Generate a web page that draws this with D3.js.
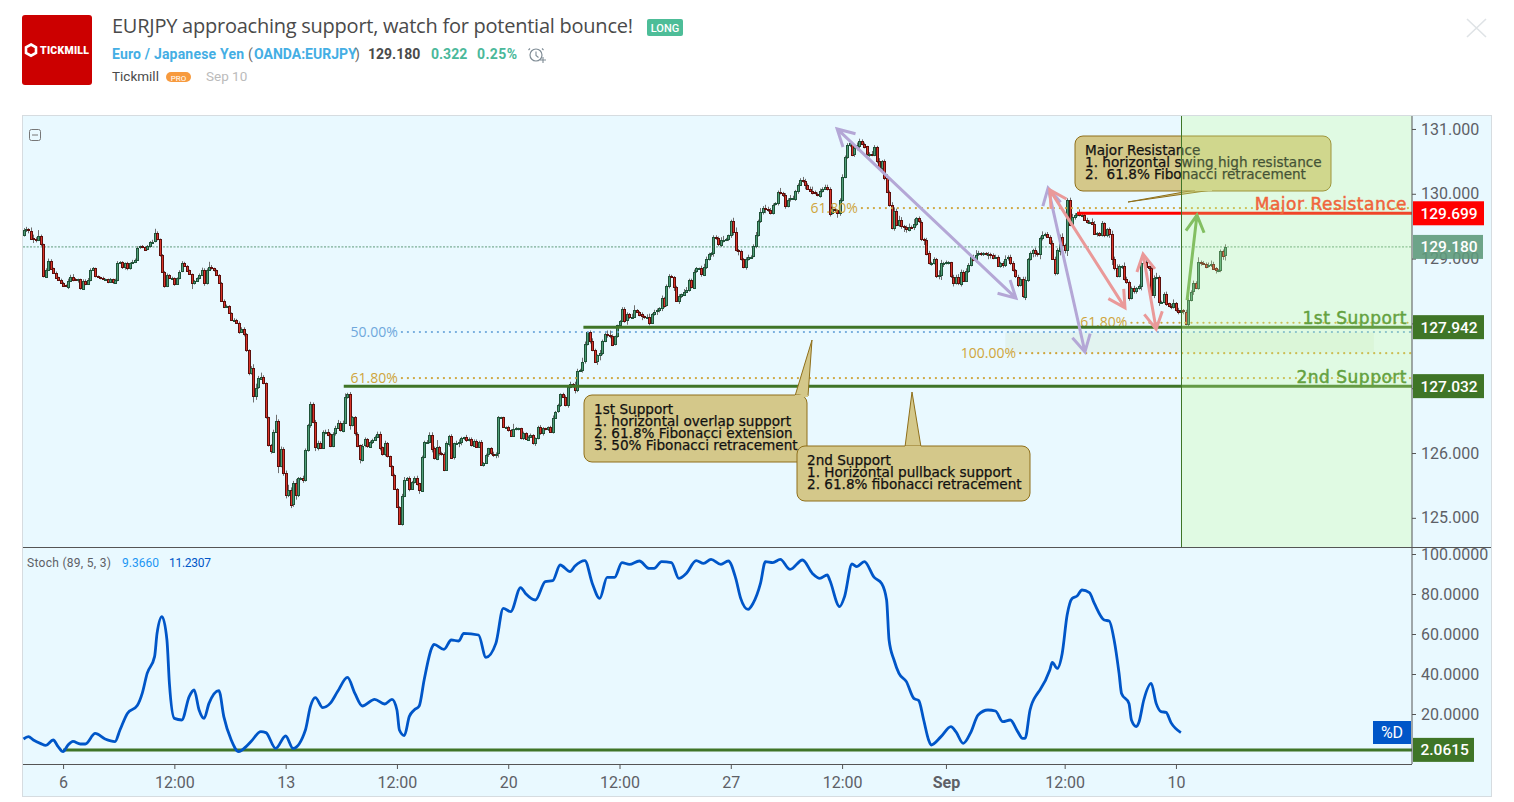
<!DOCTYPE html>
<html>
<head>
<meta charset="utf-8">
<title>EURJPY</title>
<script src="https://cdnjs.cloudflare.com/ajax/libs/d3/7.8.5/d3.min.js"></script>
<style>
html,body{margin:0;padding:0;background:#fff;overflow:hidden}
svg{display:block}
text{font-family:Roboto,sans-serif}
.note{font-family:"DejaVu Sans",sans-serif;font-size:13.6px;fill:#111;stroke:#111;stroke-width:.25}
.big{font-family:"DejaVu Sans",sans-serif;font-size:17px;letter-spacing:.5px;stroke-width:.5}
.axis text{font-size:16px;fill:#5d6066;font-family:Roboto,sans-serif}
.axis path{display:none}
.axis line{stroke:#555}
</style>
</head>
<body>
<svg id="chart" width="1514" height="802"></svg>
<script>
// EURJPY closes, one per bar
var closes = [
129.44,129.45,129.43,129.31,129.30,129.29,129.35,129.22,128.72,128.83,128.97,128.85,128.78,128.71,128.67,128.63,128.59,128.57,128.66,128.72,
128.68,128.67,128.68,128.54,128.66,128.61,128.67,128.82,128.85,128.73,128.71,128.70,128.68,128.68,128.64,128.68,128.63,128.67,128.93,128.94,
128.87,128.93,128.85,128.93,128.95,128.98,129.17,129.19,129.18,129.14,129.19,129.25,129.26,129.39,129.30,129.06,128.80,128.58,128.75,128.70,
128.70,128.61,128.70,128.80,128.93,128.89,128.82,128.76,128.62,128.65,128.70,128.75,128.83,128.63,128.83,128.87,128.85,128.82,128.75,128.63,
128.35,128.26,128.27,128.16,128.05,128.06,128.01,127.87,127.92,127.84,127.59,127.23,127.31,126.88,127.01,127.15,127.18,127.08,126.55,126.12,
126.02,126.33,126.50,125.80,126.06,125.69,125.35,125.43,125.20,125.53,125.34,125.61,125.62,125.59,126.05,126.43,126.76,126.48,126.09,126.16,
126.09,126.33,126.33,126.29,126.11,126.30,126.38,126.46,126.35,126.47,126.87,126.91,126.43,126.55,126.30,126.12,125.90,126.11,126.21,126.10,
126.17,126.20,126.25,126.30,126.09,125.98,126.15,125.95,125.80,125.66,125.45,125.17,124.91,
125.34,125.59,125.62,125.45,125.56,125.62,125.53,125.42,125.94,126.17,126.17,126.28,126.07,125.92,126.10,126.00,125.99,125.74,126.15,126.27,
125.93,126.15,126.16,126.17,126.23,126.24,126.19,126.21,126.12,126.19,126.10,126.17,125.81,125.84,125.97,126.07,125.99,125.97,125.99,126.55,
126.55,126.40,126.40,126.35,126.26,126.37,126.38,126.38,126.23,126.31,126.21,126.25,126.28,126.15,126.23,126.40,126.30,126.38,126.37,126.40,
126.33,126.54,126.64,126.74,126.91,126.87,126.74,127.02,127.06,127.05,126.97,127.27,127.28,127.41,127.68,127.87,127.73,127.59,127.41,127.51,
127.54,127.73,127.84,127.82,127.81,127.67,127.80,127.97,128.03,128.22,128.04,128.14,128.10,128.10,128.21,128.18,128.14,128.11,128.10,128.10,
128.01,128.15,128.18,128.20,128.23,128.39,128.27,128.57,128.73,128.72,128.56,128.35,128.42,128.45,128.49,128.52,128.67,128.56,128.80,128.85,
128.85,128.75,128.87,129.00,129.07,129.09,129.33,129.31,129.21,129.28,129.29,129.30,129.36,129.58,129.41,129.13,129.12,129.00,128.87,128.99,
129.02,129.03,129.19,129.36,129.58,129.72,129.78,129.76,129.75,129.70,129.83,129.85,130.02,130.01,129.98,129.81,129.91,129.93,129.93,130.05,
130.14,130.22,
130.20,130.14,130.08,130.05,130.02,130.00,129.98,130.05,130.08,130.11,130.08,129.70,129.76,129.75,129.70,129.90,130.26,130.57,130.75,130.78,
130.60,130.70,130.75,130.82,130.77,130.73,130.61,130.62,130.60,130.72,130.50,130.39,130.50,130.24,130.03,129.83,129.47,129.74,129.52,129.60,
129.50,129.48,129.45,129.49,129.48,129.53,129.62,129.57,129.30,129.29,129.08,128.93,128.93,128.99,128.73,128.75,128.93,128.93,128.94,128.94,
128.72,128.62,128.72,128.62,128.80,128.66,128.81,128.90,129.03,128.98,129.06,129.08,129.07,129.08,129.07,129.07,129.06,129.02,129.03,128.89,
128.93,128.90,129.00,129.02,128.93,128.82,128.72,128.59,128.68,128.41,128.67,128.99,129.08,129.13,129.08,129.06,129.31,129.36,129.38,129.34,
129.24,129.00,128.78,129.13,129.34,129.21,129.13,129.90,129.52,129.64,129.67,129.70,129.67,129.67,129.60,129.57,129.57,129.54,129.39,129.39,
129.36,129.55,129.36,129.45,129.38,128.99,128.85,128.73,128.88,128.88,128.68,128.64,128.39,128.54,128.49,128.54,128.57,128.93,128.95,128.88,
128.85,128.44,128.70,128.71,128.33,128.33,128.46,128.31,128.27,128.25,128.31,128.20,128.17,128.20,128.18,127.99,
128.36,128.49,128.62,128.55,128.95,128.93,128.92,128.88,128.90,128.92,128.85,128.82,128.83,129.12,129.05,129.18
];
// wick lengths above and below the body, in hundredths of a yen
var upperWicks = [
3,4,2,5,6,3,9,2,1,2,3,2,1,2,1,2,1,1,3,3,4,2,1,1,2,2,3,3,2,1,1,1,2,1,1,2,1,2,3,2,2,1,2,1,3,2,2,1,2,1,
2,2,3,7,3,1,1,1,2,1,2,1,1,2,3,2,1,1,1,2,1,2,3,2,2,8,3,1,1,1,1,2,2,1,1,2,1,2,2,2,1,1,3,6,6,4,6,2,1,1,
2,3,9,2,4,3,4,8,4,4,7,2,1,3,2,2,3,2,3,3,2,2,3,4,2,2,4,5,3,3,5,2,3,2,2,2,1,3,3,2,2,2,2,3,3,1,4,2,1,1,
2,1,1,3,4,1,2,1,2,3,1,2,2,3,4,4,3,10,1,2,2,3,1,2,1,3,4,2,1,4,3,3,2,2,2,3,2,2,1,2,3,2,2,1,1,1,2,2,8,2,
1,1,2,1,2,2,1,1,2,3,2,1,1,2,4,1,2,1,2,2,3,4,2,5,3,2,6,4,1,2,4,2,1,5,2,2,5,7,2,1,1,2,3,3,3,2,5,7,1,1,
3,1,4,5,1,3,3,2,4,2,3,3,2,1,2,3,1,4,4,2,2,3,2,1,4,5,3,2,1,3,3,3,5,6,2,1,2,5,7,2,2,1,3,4,2,3,5,2,6,3,
5,4,3,2,2,3,7,2,3,2,5,4,1,2,2,4,3,2,3,6,3,2,3,2,3,3,2,6,2,1,3,4,2,3,3,2,5,4,3,2,2,1,2,4,3,2,5,2,3,6,
2,4,5,3,6,4,2,3,5,2,8,2,3,2,2,3,4,2,3,2,7,5,2,3,2,1,3,3,4,3,2,4,3,2,3,7,4,2,2,2,3,2,2,3,2,2,3,5,3,4,
3,2,3,3,4,5,2,3,2,4,3,3,6,2,3,2,4,3,3,3,5,2,3,4,5,3,2,6,3,3,3,2,5,4,2,2,3,1,2,3,5,4,6,3,2,6,4,2,3,4,
2,3,6,8,3,1,3,4,7,3,2,2,3,1,3,6,2,4,2,2,3,3,2,4,3,7,2,3,2,4,5,3,2,1,2,2,4,2,1,4,6,2,3,4,7,3,2,5,6
];
var lowerWicks = [
2,3,4,2,6,4,2,3,1,2,2,1,1,2,1,2,2,1,4,2,3,1,4,2,1,2,1,2,1,2,1,2,1,2,2,1,2,1,2,1,3,4,3,2,1,2,1,2,2,1,
1,2,1,1,2,3,2,3,2,1,2,3,1,2,1,2,2,1,9,2,1,2,2,5,3,1,2,2,2,2,2,1,2,1,1,2,1,3,1,4,3,3,2,10,6,2,1,2,2,2,
3,2,1,11,2,4,5,3,5,3,6,2,3,5,3,3,4,2,6,5,2,1,4,3,2,2,3,1,2,3,2,3,7,2,3,3,6,3,2,2,2,3,1,2,5,2,3,2,2,2,
2,2,1,3,2,1,4,2,3,3,5,2,2,3,2,6,2,3,4,3,2,1,5,2,3,2,7,5,3,2,1,2,2,2,2,1,2,1,3,2,3,5,6,2,1,2,2,1,1,2,
3,2,3,1,2,1,2,4,2,2,3,2,3,2,3,1,2,3,2,2,4,2,4,5,3,2,4,3,2,4,2,2,5,8,3,2,4,4,2,1,2,4,1,3,6,3,2,1,2,3,
6,3,2,4,2,3,5,3,4,3,1,3,2,6,2,5,3,1,2,3,2,3,2,1,3,2,3,3,4,6,2,2,3,3,2,3,4,5,2,7,3,2,4,2,2,1,3,2,3,4,
6,3,2,2,1,3,2,3,4,2,3,2,4,5,2,3,7,2,2,3,1,2,4,3,2,3,5,2,3,7,4,2,2,3,3,2,3,3,7,2,3,3,4,2,2,3,1,4,3,2,
3,2,4,2,3,4,7,5,3,2,4,3,2,3,8,3,2,4,2,3,5,8,6,2,3,2,5,2,3,5,2,2,3,2,2,4,2,3,3,2,8,6,3,2,2,3,4,3,3,3,
2,2,3,2,2,5,3,2,6,5,3,7,3,2,2,3,2,4,3,8,3,5,9,2,3,4,2,2,3,2,3,3,2,2,5,2,2,3,3,6,9,3,2,2,4,2,3,4,2,3,
3,2,6,3,2,4,3,5,2,6,3,2,4,2,3,2,2,3,6,4,2,3,2,5,2,3,4,2,3,2,3,2,5,3,4,7,8,2,3,2,4,3,2,3,3
];

// stochastic %D line
var stochBars = [0,2,4,7,9,12,14,16,18,20,23,25,29,33,37,39,42,46,48,50,53,54,56,58,59,61,64,67,69,71,73,75,79,81,84,87,90,92,96,98,102,106,109,114,116,118,121,124,127,131,134,137,142,146,149,151,152,154,156,158,160,162,165,166,170,173,176,178,184,187,191,194,197,201,203,207,211,214,217,221,223,227,230,233,236,239,242,245,249,253,255,258,262,265,268,272,275,278,282,285,288,290,293,295,298,300,303,306,310,315,319,322,325,326,330,332,335,337,340,344,347,349,350,352,354,357,360,362,364,366,367,371,375,377,380,383,386,390,393,396,399,402,404,405,407,410,411,415,416,418,420,422,424,426,428,431,433,437,439,441,443,444,447,448,450,451,453,456,458,460,462,464,468];
var stochValues = [7.5,8.7,7,5.2,4.3,7,3.7,1.2,4.5,6.3,5,5,10.3,7.5,6.2,12,20.3,24.2,30.3,40.3,48.7,60.3,68.7,57,35.3,17.8,17,28.7,32,22,17.8,25.3,31.7,18.7,7,1.2,3.7,6.2,11.2,10.7,2.8,9,2.8,12,23.7,28.2,23.2,25.3,31.2,38.3,30.3,24,27.3,25,27.3,22,12,9.2,18.7,22,24,37,52.8,54.8,52.3,57,56.5,60.3,59.5,48.3,55.3,72.8,71.2,83.2,80.3,77,86.2,86.7,94.5,91.2,94,96.7,85.3,77.8,88.3,88.3,95.7,94.8,96.5,92.8,92.8,96.2,95.7,87.8,90.3,96.7,95.3,97.3,94.8,96.5,87.8,77.8,72.3,75.3,85.3,96.2,95.7,97.3,92.3,97,90.3,87.8,89.5,87,73.7,78.7,95,93.7,96.2,88.3,85.3,77,57,47,40.3,36.2,27.8,26.7,17,7,4.5,8.7,13.7,11.2,5.3,10.7,19.5,22,21.5,16.2,17,11.2,7.8,7.8,22,30.3,32,42,45.8,42.8,50.3,69.5,77.8,79,82,80.7,75.3,67,66.5,57,40.3,30.3,25.3,17,13.7,15.7,27,35.3,25.3,21.2,20.8,15.7,10.7];

var priceTicks = [131,130,129,128,127,126,125];
var stochTicks = [100,80,60,40,20];
var timeBars = [16,61,106,151,196,241,286,331,373,421,466];
var timeLabels = ['6','12:00','13','12:00','20','12:00','27','12:00','Sep','12:00','10'];

var lastPrice = 129.180, resistance = 129.699, support1 = 127.942, support2 = 127.032, stochLevel = 2.0615;

// fib levels: price, first bar, label, colour
var fibLevels = [
  {price:127.867, bar:153, label:'50.00%', color:'#6fa8dc'},
  {price:127.157, bar:153, label:'61.80%', color:'#cfa53c'},
  {price:129.780, bar:339, label:'61.80%', color:'#cfa53c'},
  {price:128.010, bar:448, label:'61.80%', color:'#cfa53c'},
  {price:127.540, bar:403, label:'100.00%', color:'#cfa53c'}
];
// arrows: from bar, from price, to bar, to price, colour, double headed
var arrows = [
  [329,131.00,401.3,128.39,'#b4a7d6',true],
  [414.3,130.09,429.2,127.56,'#b4a7d6',true],
  [415,130.06,445.4,128.24,'#ea9999',true],
  [452.7,129.07,458,127.91,'#ea9999',true],
  [470.5,128.36,474.5,129.67,'#6aa84f',false]
];

var svg = d3.select('#chart');
var left = 23, axisX = 1412, cardR = 1491, top_ = 116, sep = 547, bottom = 764, cardB = 796;

var x = d3.scaleLinear().domain([0,561.45]).range([23.5,1412]);
var y = d3.scaleLinear().domain([131.2,124.55]).range([top_,sep]);
var yS = d3.scaleLinear().domain([103.5,-5]).range([sep,bottom]);

// header
var head = svg.append('g');
head.append('rect').attr('x',22).attr('y',15).attr('width',70).attr('height',70).attr('rx',3).attr('fill','#cc0000');
head.append('path').attr('d','M31 44.5l5 2.8v5.6l-5 2.8-5-2.8v-5.6z').attr('fill','none').attr('stroke','#fff').attr('stroke-width',2.6);
head.append('text').attr('x',40).attr('y',53.5).attr('font-size',10.5).attr('font-weight',900).attr('fill','#fff').attr('textLength',49).text('TICKMILL');
head.append('text').attr('x',112).attr('y',33).attr('font-size',20).attr('fill','#4a4a4a').attr('textLength',521).style('font-family','"Open Sans"').text('EURJPY approaching support, watch for potential bounce!');
head.append('rect').attr('x',647).attr('y',19).attr('width',36).attr('height',17).attr('rx',2).attr('fill','#4dbd98');
head.append('text').attr('x',665).attr('y',31.5).attr('text-anchor','middle').attr('font-size',11).attr('font-weight',500).attr('fill','#fff').text('LONG');

var line2 = [
  [112,'Euro / Japanese Yen','#44aee4',700,132],
  [248,'(','#6b6b6b',400,0],
  [254,'OANDA:EURJPY','#44aee4',700,0],
  [355,')','#6b6b6b',400,0],
  [368,'129.180','#4a4a4a',700,0],
  [431,'0.322','#4ab89a',700,0],
  [477,'0.25%','#4ab89a',700,40]
];
head.selectAll('.l2').data(line2).enter().append('text').attr('class','l2')
  .attr('x',function(d){return d[0];}).attr('y',59).attr('font-size',14)
  .attr('fill',function(d){return d[2];}).attr('font-weight',function(d){return d[3];})
  .attr('textLength',function(d){return d[4]||null;})
  .text(function(d){return d[1];});
head.append('circle').attr('cx',536).attr('cy',55).attr('r',6).attr('fill','none').attr('stroke','#7f8c95').attr('stroke-width',1.2);
head.append('path').attr('d','M536 51.5v4l2.5 2M530 48.5l-1.5 1.5M542 48.5l1.5 1.5M540 60h6M543 57v6').attr('fill','none').attr('stroke','#7f8c95').attr('stroke-width',1.1);
head.append('text').attr('x',112).attr('y',81).attr('font-size',13.5).attr('fill','#4a4a4a').text('Tickmill');
head.append('rect').attr('x',166).attr('y',72).attr('width',25).attr('height',10).attr('rx',5).attr('fill','#f79a3e');
head.append('text').attr('x',178.5).attr('y',80.5).attr('text-anchor','middle').attr('font-size',8).attr('fill','#fff').text('PRO');
head.append('text').attr('x',206).attr('y',81).attr('font-size',13.5).attr('fill','#bbbbbb').text('Sep 10');
head.append('path').attr('d','M1467 19l19 18M1486 19l-19 18').attr('stroke','#dfe3e6').attr('stroke-width',1.6);

// card background
svg.append('rect').attr('x',left-.5).attr('y',top_-.5).attr('width',cardR-left+1).attr('height',cardB-top_+1)
  .attr('fill','#e9f9ff').attr('stroke','#d6dce0');

svg.append('defs').append('clipPath').attr('id','paneClip').append('rect')
  .attr('x',left).attr('y',top_).attr('width',axisX-left).attr('height',sep-top_);
var pane = svg.append('g').attr('clip-path','url(#paneClip)');

// last price line
pane.append('line').attr('x1',left).attr('x2',axisX).attr('y1',y(lastPrice)).attr('y2',y(lastPrice))
  .attr('stroke','#5f9a7c').attr('stroke-dasharray','2 1.5');

// candles
var opens = [129.36].concat(closes.slice(0,-1));
var bars = closes.map(function(c,i){
  var o = opens[i];
  return {i:i,o:o,c:c,h:Math.max(o,c)+(upperWicks[i]||0)/100,l:Math.min(o,c)-(lowerWicks[i]||0)/100};
});
var cx = function(d){return Math.round(x(d.i));};
pane.selectAll('.wick').data(bars).enter().append('line').attr('class','wick')
  .attr('x1',function(d){return cx(d)+.5;}).attr('x2',function(d){return cx(d)+.5;})
  .attr('y1',function(d){return y(d.h);}).attr('y2',function(d){return y(d.l);})
  .attr('stroke','#6f6f6f').attr('stroke-width',1);
pane.selectAll('.body').data(bars).enter().append('rect').attr('class','body')
  .attr('x',function(d){return cx(d)-.5;}).attr('width',2)
  .attr('y',function(d){return Math.round(y(Math.max(d.o,d.c)))+.5;})
  .attr('height',function(d){return Math.max(1,Math.round(Math.abs(y(d.o)-y(d.c))));})
  .attr('fill',function(d){return d.c>=d.o?'#4f9e78':'#d9352a';})
  .attr('stroke',function(d){return d.c>=d.o?'#1f5238':'#5c0f0c';})
  .attr('stroke-width',1).attr('shape-rendering','crispEdges');

// fib zone
pane.append('rect').attr('x',x(397)).attr('width',x(546)-x(397))
  .attr('y',y(127.86)).attr('height',y(127.55)-y(127.86)).attr('fill','#bad19b').attr('opacity',.15);

// fib dotted levels and their labels
pane.selectAll('.fib').data(fibLevels).enter().append('line').attr('class','fib')
  .attr('x1',function(d){return x(d.bar);}).attr('x2',axisX)
  .attr('y1',function(d){return y(d.price);}).attr('y2',function(d){return y(d.price);})
  .attr('stroke',function(d){return d.color;}).attr('stroke-width',2.2)
  .attr('stroke-linecap','round').attr('stroke-dasharray','0.1 5.9');
pane.selectAll('.fibl').data(fibLevels).enter().append('text').attr('class','fibl')
  .attr('x',function(d){return x(d.bar)-4;}).attr('y',function(d){return y(d.price)+4.5;})
  .attr('text-anchor','end').attr('font-size',14).style('font-family','"Open Sans"')
  .attr('fill',function(d){return d.color;}).text(function(d){return d.label;});

// horizontal levels
var levels = [[support1,226.4,'#3f7527'],[support2,129.5,'#3f7527'],[resistance,426,'#ff0000']];
pane.selectAll('.lvl').data(levels).enter().append('line').attr('class','lvl')
  .attr('x1',function(d){return x(d[1]);}).attr('x2',axisX)
  .attr('y1',function(d){return y(d[0]);}).attr('y2',function(d){return y(d[0]);})
  .attr('stroke',function(d){return d[2];}).attr('stroke-width',3);

// arrows
function arrowPath(d){
  var x1=x(d[0]),y1=y(d[1]),x2=x(d[2]),y2=y(d[3]),p='M'+x1+' '+y1+'L'+x2+' '+y2;
  function head(px,py,qx,qy){
    var a=Math.atan2(qy-py,qx-px),s=.5,l=19;
    return 'M'+(px+l*Math.cos(a+s))+' '+(py+l*Math.sin(a+s))+'L'+px+' '+py+'L'+(px+l*Math.cos(a-s))+' '+(py+l*Math.sin(a-s));
  }
  p+=head(x2,y2,x1,y1);
  if(d[5]) p+=head(x1,y1,x2,y2);
  return p;
}
pane.selectAll('.arrow').data(arrows).enter().append('path').attr('class','arrow')
  .attr('d',arrowPath).attr('fill','none').attr('stroke',function(d){return d[4];}).attr('stroke-width',3);

// callouts
var boxes = [
  {x:584,y:395,w:223,h:67,tip:'M795 396L812 340L808 396',tx:594,ty:414,lines:['1st Support','1. horizontal overlap support','2. 61.8% Fibonacci extension','3. 50% Fibonacci retracement']},
  {x:797,y:446,w:233,h:55,tip:'M905 447L912 392L921 447',tx:807,ty:465,lines:['2nd Support','1. Horizontal pullback support','2. 61.8% fibonacci retracement']},
  {x:1075,y:136,w:256,h:55,tip:'M1195 190L1128 202L1212 190',tx:1085,ty:155,lines:['Major Resistance','1. horizontal swing high resistance','2.  61.8% Fibonacci retracement']}
];
boxes.forEach(function(b){
  var g = pane.append('g');
  g.append('path').attr('d',b.tip).attr('fill','#d4c88a').attr('stroke','#8f6f1a');
  g.append('rect').attr('x',b.x).attr('y',b.y).attr('width',b.w).attr('height',b.h).attr('rx',8)
    .attr('fill','#d4c88a').attr('stroke','#8f6f1a');
  g.append('path').attr('d',b.tip.split('L').slice(0,1)[0]+'L'+b.tip.split('L')[2]).attr('stroke','#d4c88a').attr('stroke-width',2);
  g.selectAll('text').data(b.lines).enter().append('text').attr('class','note')
    .attr('x',b.tx).attr('y',function(d,i){return b.ty+i*12;}).attr('xml:space','preserve').style('white-space','pre').text(function(d){return d;});
});

// level titles
var titles = [[resistance,'Major Resistance','#ff2a1a',-3],[support1,'1st Support','#3f7f1e',-3],[support2,'2nd Support','#3f7f1e',-3]];
pane.selectAll('.big').data(titles).enter().append('text').attr('class','big')
  .attr('x',1407).attr('y',function(d){return y(d[0])+d[3];}).attr('text-anchor','end')
  .attr('fill',function(d){return d[2];}).attr('stroke',function(d){return d[2];}).text(function(d){return d[1];});

// time range highlight sits on top of everything in the pane
pane.append('rect').attr('x',1181.5).attr('y',top_).attr('width',axisX-1181.5).attr('height',sep-top_)
  .attr('fill','#c8ff96').attr('opacity',.27);
pane.append('line').attr('x1',1181.5).attr('x2',1181.5).attr('y1',top_).attr('y2',sep).attr('stroke','#3f7527');

// collapse icon
svg.append('rect').attr('x',29.5).attr('y',129.5).attr('width',11).attr('height',11).attr('rx',2).attr('fill','none').attr('stroke','#777');
svg.append('line').attr('x1',32).attr('x2',38).attr('y1',135).attr('y2',135).attr('stroke','#777');

// stochastic
svg.append('line').attr('x1',x(16)).attr('x2',axisX).attr('y1',yS(stochLevel)).attr('y2',yS(stochLevel))
  .attr('stroke','#3f7527').attr('stroke-width',3);
var stochLine = d3.line().x(function(d){return x(d[0]);}).y(function(d){return yS(d[1]);}).curve(d3.curveMonotoneX);
svg.append('path').datum(d3.zip(stochBars,stochValues)).attr('d',stochLine)
  .attr('fill','none').attr('stroke','#0056c8').attr('stroke-width',2.8);
var legend = [[27,'Stoch (89, 5, 3)','#5d6066',84],[122,'9.3660','#2196f3',37],[169,'11.2307','#0056c8',42]];
svg.selectAll('.leg').data(legend).enter().append('text').attr('class','leg')
  .attr('x',function(d){return d[0];}).attr('y',567).attr('font-size',12).attr('textLength',function(d){return d[3];})
  .attr('fill',function(d){return d[2];}).text(function(d){return d[1];});

// axes
svg.append('g').attr('class','axis').attr('transform','translate('+axisX+',0)')
  .call(d3.axisRight(y).tickValues(priceTicks).tickSize(4).tickPadding(5).tickFormat(d3.format('.3f')));
svg.append('g').attr('class','axis').attr('transform','translate('+axisX+',0)')
  .call(d3.axisRight(yS).tickValues(stochTicks).tickSize(4).tickPadding(5).tickFormat(d3.format('.4f')));
var tAxis = svg.append('g').attr('class','axis').attr('transform','translate(0,'+bottom+')')
  .call(d3.axisBottom(x).tickValues(timeBars).tickSize(5).tickPadding(8).tickFormat(function(d,i){return timeLabels[i];}));
tAxis.selectAll('text').attr('font-weight',function(d,i){return timeLabels[i]=='Sep'?700:400;})
  .style('font-weight',function(d,i){return timeLabels[i]=='Sep'?700:400;});

// frame lines
svg.append('line').attr('x1',axisX).attr('x2',axisX).attr('y1',top_).attr('y2',bottom).attr('stroke','#555');
svg.append('line').attr('x1',left).attr('x2',axisX).attr('y1',bottom+.5).attr('y2',bottom+.5).attr('stroke','#555');
svg.append('line').attr('x1',left).attr('x2',cardR).attr('y1',sep+.5).attr('y2',sep+.5).attr('stroke','#555');

// price tags
var tags = [
  [y(resistance),'129.699','#ff0000',71,1],
  [y(lastPrice),'129.180','#5f9a7c',70,.9],
  [y(support1),'127.942','#3f7527',71,1],
  [y(support2),'127.032','#3f7527',71,1],
  [yS(stochLevel),'2.0615','#3f7527',61,1]
];
svg.selectAll('.tag').data(tags).enter().append('rect').attr('class','tag')
  .attr('x',axisX+1).attr('y',function(d){return d[0]-12;}).attr('width',function(d){return d[3];}).attr('height',24)
  .attr('fill',function(d){return d[2];}).attr('opacity',function(d){return d[4];});
svg.selectAll('.tagt').data(tags).enter().append('text').attr('class','tagt')
  .attr('x',axisX+8.5).attr('y',function(d){return d[0]+5.5;}).attr('font-size',15.5).attr('font-weight',500).attr('fill','#fff')
  .text(function(d){return d[1];});
svg.append('rect').attr('x',1373).attr('y',721).attr('width',38).attr('height',23).attr('fill','#0056c8');
svg.append('text').attr('x',1392).attr('y',738).attr('text-anchor','middle').attr('font-size',16).attr('fill','#fff').text('%D');
</script>
</body>
</html>
